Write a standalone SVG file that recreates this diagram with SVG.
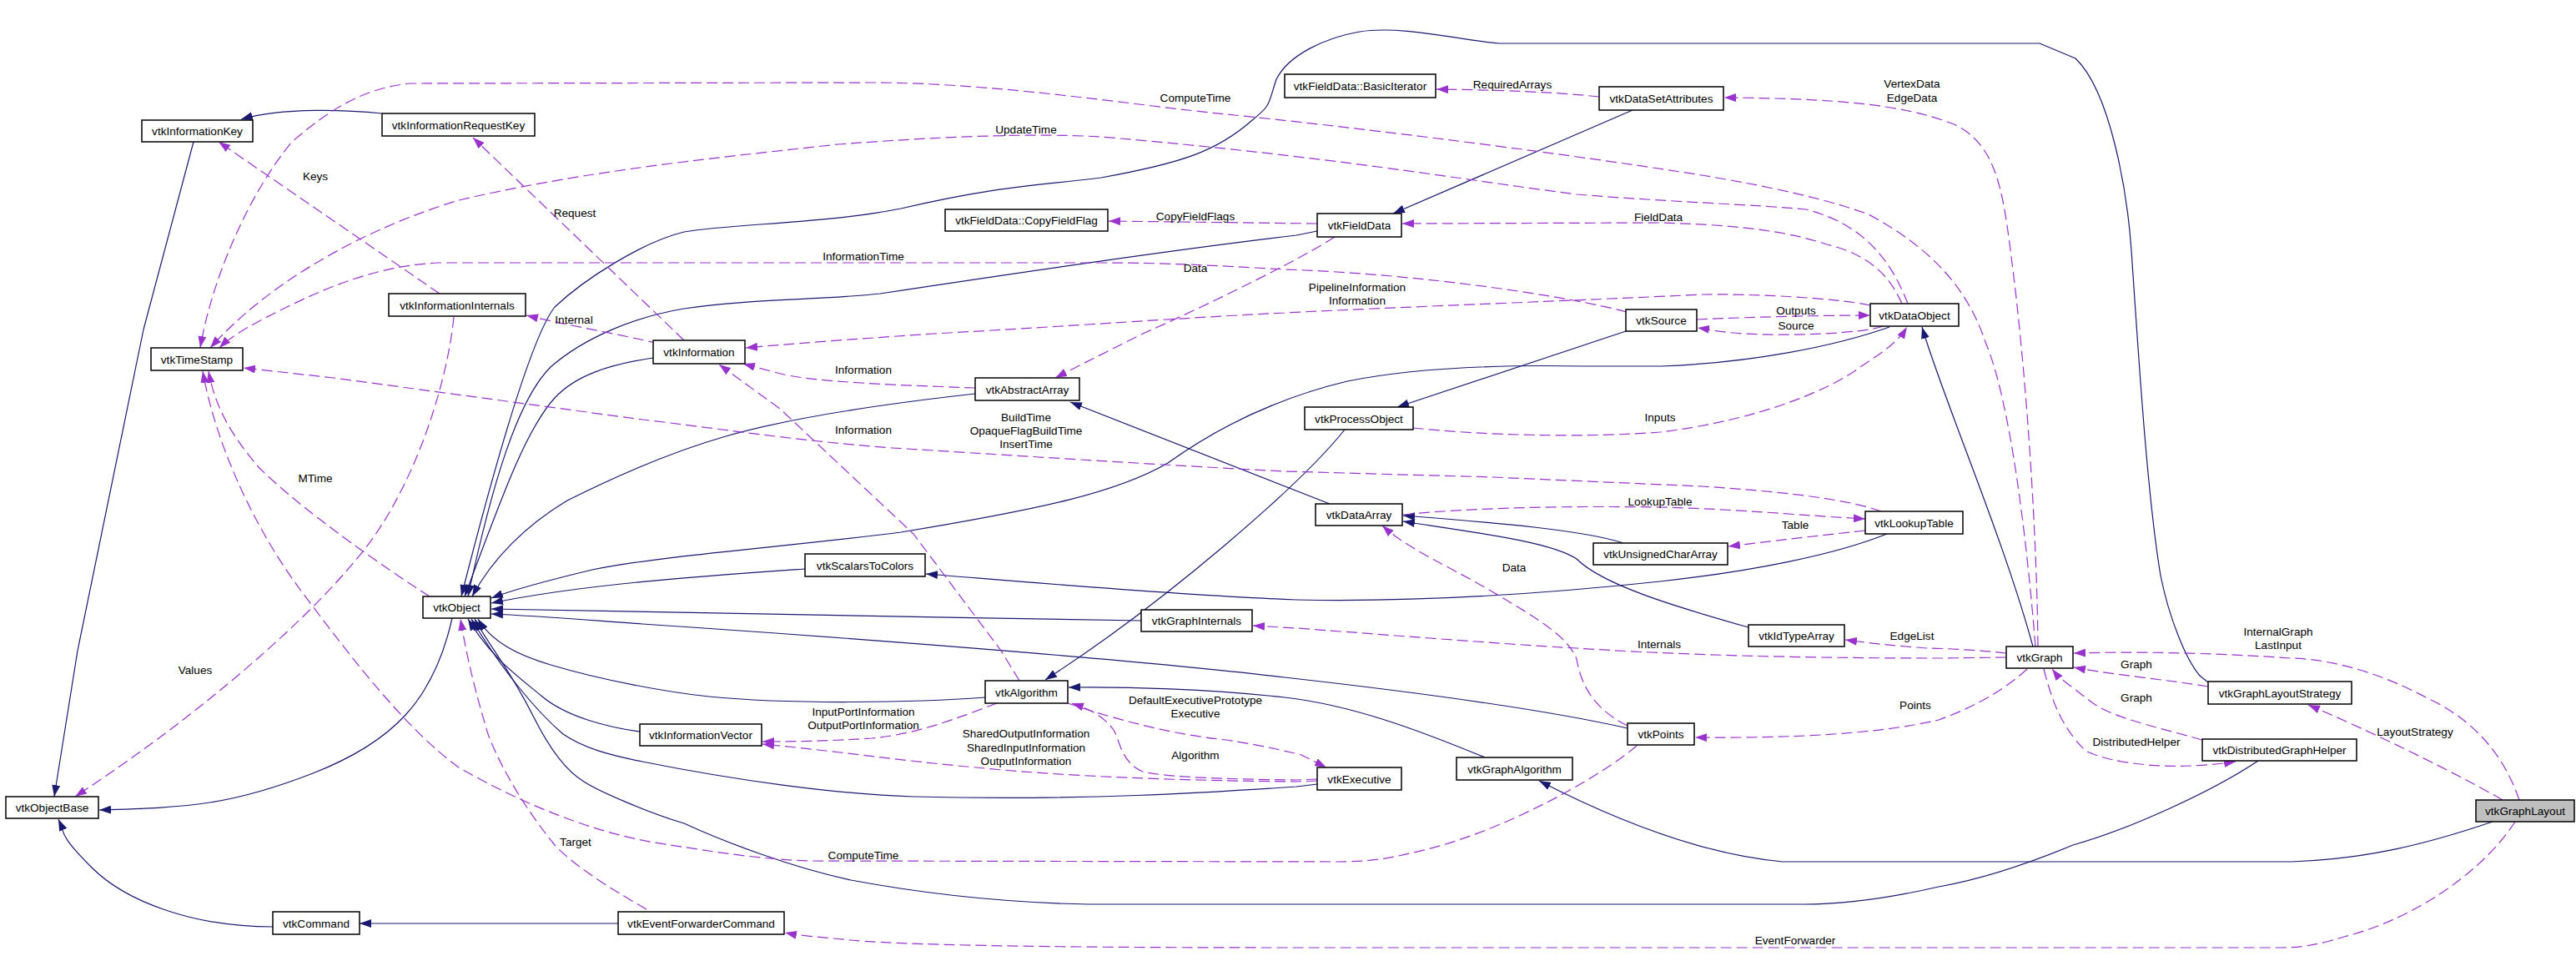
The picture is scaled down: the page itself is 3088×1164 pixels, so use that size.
<svg xmlns="http://www.w3.org/2000/svg" width="3088" height="1164" viewBox="0 0 3088 1164">
<style>
.node rect{fill:#ffffff;stroke:#000000;stroke-width:1.5}
#vtkGraphLayout rect{fill:#bfbfbf}
text{font-family:"Liberation Sans",Arial,sans-serif;font-size:13.6px;fill:#000000;text-anchor:middle}
.inh{fill:none;stroke:#191970;stroke-width:1.2;stroke-linejoin:round;marker-end:url(#an)}
.use{fill:none;stroke:#9a32cd;stroke-width:1.2;stroke-dasharray:13,6;stroke-linejoin:round;marker-end:url(#ap)}
</style>
<defs>
<marker id="an" viewBox="0 0 14 10" refX="14" refY="5" markerWidth="14" markerHeight="10" markerUnits="userSpaceOnUse" orient="auto"><path d="M0,0L14,5L0,10z" fill="#191970" stroke="none"/></marker>
<marker id="ap" viewBox="0 0 14 10" refX="14" refY="5" markerWidth="14" markerHeight="10" markerUnits="userSpaceOnUse" orient="auto"><path d="M0,0L14,5L0,10z" fill="#9a32cd" stroke="none"/></marker>
</defs>
<rect width="3088" height="1164" fill="#ffffff"/>
<g id="edges">
<!-- inheritance -->
<path class="inh" d="M458,136 C420,132 340,128 289,143"/>
<path class="inh" d="M232,170 L172,395 L93,780 L65,955"/>
<path class="inh" d="M542,741 C520,840 470,890 375,927 S230,968 119,971"/>
<path class="inh" d="M327,1111 C230,1111 150,1080 110,1040 S78,1000 70,982"/>
<path class="inh" d="M741,1107 L431,1107"/>
<path class="inh" d="M2647,818 L2637,810 C2620,790 2600,740 2590,690 C2575,600 2565,450 2555,300 C2550,230 2530,110 2488,70 L2445,52 L1797,52 C1750,48 1680,30 1630,38 C1590,45 1545,65 1530,95 C1520,125 1525,125 1500,145 C1460,180 1420,195 1320,213 C1250,222 1200,222 1080,250 C990,268 880,268 820,278 C770,290 700,335 665,368 C640,400 600,530 553,715"/>
<path class="inh" d="M783,429 C730,437 690,450 665,477 C630,515 600,600 557,715"/>
<path class="inh" d="M1579,277 L1554,282 C1400,300 1200,330 1055,352 C980,360 900,358 820,370 C760,380 700,405 660,440 C620,480 590,580 561,715"/>
<path class="inh" d="M1169,472 C1070,483 950,500 870,523 C800,543 730,575 680,600 C630,630 590,670 566,715"/>
<path class="inh" d="M2265,392 C2200,415 2100,435 1990,439 L1900,439 C1800,437 1700,440 1615,457 C1540,475 1470,505 1400,555 C1340,590 1250,610 1080,638 C950,655 800,665 710,683 C660,695 620,705 589,717"/>
<path class="inh" d="M965,682 C850,690 700,700 589,723"/>
<path class="inh" d="M1368,744 C1100,740 800,733 589,730"/>
<path class="inh" d="M1951,873 C1850,850 1700,830 1540,812 C1400,795 1100,770 770,748 C700,743 640,738 589,736"/>
<path class="inh" d="M1181,836 C1100,842 950,845 850,835 C800,830 720,815 660,797 C620,785 590,770 573,742"/>
<path class="inh" d="M767,877 C730,872 680,860 650,835 C620,810 590,790 561,742"/>
<path class="inh" d="M1579,940 L1554,943 C1450,950 1300,960 1095,955 C1000,952 880,935 770,913 C730,905 700,897 675,880 C640,850 600,800 565,742"/>
<path class="inh" d="M2707,912 C2650,950 2550,995 2485,1013 C2420,1040 2370,1055 2324,1063 C2250,1080 2200,1084 2162,1084 L1305,1084 C1200,1082 1100,1070 1020,1055 C950,1040 870,1010 820,987 C780,975 720,950 700,937 C680,925 660,900 640,860 C610,800 590,780 569,742"/>
<path class="inh" d="M2437,775 C2400,640 2330,480 2304,392"/>
<path class="inh" d="M1957,132 L1670,256"/>
<path class="inh" d="M1949,397 L1675,488"/>
<path class="inh" d="M1612,515 C1560,580 1400,720 1253,815"/>
<path class="inh" d="M1594,604 L1283,482"/>
<path class="inh" d="M1946,651 C1900,636 1800,627 1682,618"/>
<path class="inh" d="M2096,752 C2000,725 1920,700 1890,670 C1860,650 1780,640 1682,625"/>
<path class="inh" d="M2262,640 C2200,665 2100,685 1990,697 C1850,712 1700,722 1554,719 C1400,713 1200,695 1110,688"/>
<path class="inh" d="M1780,908 C1700,875 1620,845 1540,836 C1450,826 1350,823 1281,824"/>
<path class="inh" d="M2988,985 C2900,1015 2830,1030 2747,1033 L2137,1033 C2050,1025 1950,990 1845,936"/>
<!-- usage -->
<path class="use" d="M527,352 L262,170"/>
<path class="use" d="M820,408 L567,165"/>
<path class="use" d="M790,412 C740,400 680,390 631,378"/>
<path class="use" d="M544,380 C535,470 490,600 425,673 C370,740 250,850 90,955"/>
<path class="use" d="M515,715 C460,680 360,610 310,560 C280,525 258,490 250,445"/>
<path class="use" d="M1962,894 C1920,930 1800,1000 1690,1023 C1660,1030 1640,1033 1600,1033 L970,1032 C900,1030 820,1015 784,1010 C700,995 620,960 550,920 C480,870 400,760 360,707 C310,640 260,540 243,445"/>
<path class="use" d="M2440,775 C2430,650 2410,480 2380,410 C2360,350 2320,300 2240,257 C2180,235 2100,220 2040,210 C1850,180 1600,150 1470,137 C1350,125 1200,100 1050,99 L492,100 C440,105 400,127 350,170 C300,230 255,330 240,417"/>
<path class="use" d="M2287,364 C2270,320 2240,270 2165,251 C2100,245 2000,242 1890,233 C1750,215 1600,188 1320,164 C1250,160 1150,162 1005,173 C850,190 700,205 550,240 C450,270 330,330 252,417"/>
<path class="use" d="M1950,374 C1880,355 1700,328 1540,323 C1450,318 1400,315 1320,315 L525,315 C460,318 400,340 340,370 C310,385 280,400 263,417"/>
<path class="use" d="M2034,383 C2100,380 2180,378 2242,378"/>
<path class="use" d="M2258,391 C2230,400 2150,403 2090,400 C2060,398 2050,395 2035,393"/>
<path class="use" d="M2280,364 C2265,330 2240,305 2190,293 C2150,280 2100,270 1990,267 L1681,268"/>
<path class="use" d="M2443,775 C2442,650 2430,450 2410,300 C2400,220 2390,170 2340,148 C2280,125 2200,118 2067,117"/>
<path class="use" d="M1917,116 C1860,110 1800,108 1722,107"/>
<path class="use" d="M1579,268 L1329,265"/>
<path class="use" d="M1600,284 C1560,310 1460,360 1370,400 C1320,425 1290,440 1265,453"/>
<path class="use" d="M1169,465 C1080,462 980,458 940,449 C920,444 905,440 891,436"/>
<path class="use" d="M1222,816 L1200,780 L1095,640 L935,490 L862,437"/>
<path class="use" d="M2255,613 C2220,600 2150,590 2040,583 L1790,572 L1540,565 C1400,558 1200,545 1070,537 C950,528 850,512 770,503 L600,480 L400,453 L292,441"/>
<path class="use" d="M1682,617 C1750,610 1850,606 1990,608 C2080,610 2160,618 2236,622"/>
<path class="use" d="M2236,636 C2180,642 2130,648 2072,655"/>
<path class="use" d="M1951,870 C1910,850 1895,820 1890,790 C1880,765 1850,745 1790,710 C1740,680 1690,660 1657,630"/>
<path class="use" d="M2405,788 L2330,789 C2200,789 2040,787 1890,777 C1800,772 1650,760 1554,753 L1502,750"/>
<path class="use" d="M2405,783 C2380,780 2330,777 2310,777 C2270,774 2250,772 2212,767"/>
<path class="use" d="M2430,802 C2400,830 2360,850 2324,863 C2250,880 2150,885 2032,884"/>
<path class="use" d="M3020,959 C3000,900 2960,860 2910,837 C2860,810 2800,790 2745,789 C2650,782 2550,781 2486,783"/>
<path class="use" d="M2647,823 C2600,815 2540,810 2486,800"/>
<path class="use" d="M2640,887 C2580,870 2530,860 2505,840 C2480,820 2470,815 2460,802"/>
<path class="use" d="M2450,802 C2460,840 2470,870 2500,900 C2530,915 2600,925 2680,913"/>
<path class="use" d="M3000,959 C2950,930 2850,880 2767,845"/>
<path class="use" d="M3015,985 C2980,1040 2900,1100 2810,1123 C2780,1132 2760,1136 2735,1136 L1554,1136 C1300,1136 1100,1134 1020,1127 C990,1124 960,1122 941,1118"/>
<path class="use" d="M775,1090 C740,1070 690,1040 665,1013 C630,970 600,920 585,880 C570,830 560,790 552,742"/>
<path class="use" d="M1195,843 C1150,860 1100,880 1045,885 C1000,888 960,889 914,889"/>
<path class="use" d="M1579,936 L1554,937 C1450,936 1300,933 1170,920 C1080,912 1000,900 914,892"/>
<path class="use" d="M1579,934 L1554,935 C1470,934 1400,932 1370,925 C1345,915 1343,890 1335,875 C1320,855 1300,848 1285,843"/>
<path class="use" d="M1280,843 C1330,860 1400,880 1470,887 C1510,893 1540,900 1560,905 C1570,910 1580,915 1590,920"/>
<path class="use" d="M1694,513 C1780,522 1900,525 1990,518 C2100,505 2190,470 2230,440 C2260,420 2275,410 2286,392"/>
<path class="use" d="M2242,366 C2200,357 2100,352 2040,353 C1900,360 1700,367 1540,375 C1400,382 1300,390 1120,400 C1000,408 950,412 894,417"/>
<!-- labels -->
<text x="378" y="216">Keys</text>
<text x="689" y="260">Request</text>
<text x="688" y="388">Internal</text>
<text x="378" y="578">MTime</text>
<text x="234" y="808">Values</text>
<text x="690" y="1014">Target</text>
<text x="1433" y="122">ComputeTime</text>
<text x="1230" y="160">UpdateTime</text>
<text x="1433" y="264">CopyFieldFlags</text>
<text x="1035" y="312">InformationTime</text>
<text x="1433" y="326">Data</text>
<text x="1813" y="106">RequiredArrays</text>
<text x="2292" y="105">VertexData</text>
<text x="2292" y="122">EdgeData</text>
<text x="1988" y="265">FieldData</text>
<text x="1627" y="349">PipelineInformation</text>
<text x="1627" y="365">Information</text>
<text x="2153" y="377">Outputs</text>
<text x="2153" y="395">Source</text>
<text x="1035" y="448">Information</text>
<text x="1035" y="520">Information</text>
<text x="1230" y="505">BuildTime</text>
<text x="1230" y="521">OpaqueFlagBuildTime</text>
<text x="1230" y="537">InsertTime</text>
<text x="1990" y="505">Inputs</text>
<text x="1990" y="606">LookupTable</text>
<text x="2152" y="634">Table</text>
<text x="1815" y="685">Data</text>
<text x="1989" y="777">Internals</text>
<text x="2292" y="767">EdgeList</text>
<text x="2731" y="762">InternalGraph</text>
<text x="2731" y="778">LastInput</text>
<text x="1035" y="858">InputPortInformation</text>
<text x="1035" y="874">OutputPortInformation</text>
<text x="1230" y="884">SharedOutputInformation</text>
<text x="1230" y="901">SharedInputInformation</text>
<text x="1230" y="917">OutputInformation</text>
<text x="1433" y="844">DefaultExecutivePrototype</text>
<text x="1433" y="860">Executive</text>
<text x="1433" y="910">Algorithm</text>
<text x="1035" y="1030">ComputeTime</text>
<text x="2296" y="850">Points</text>
<text x="2152" y="1132">EventForwarder</text>
<text x="2561" y="801">Graph</text>
<text x="2561" y="841">Graph</text>
<text x="2561" y="894">DistributedHelper</text>
<text x="2895" y="882">LayoutStrategy</text>
</g>
<g id="vtkInformationKey" class="node"><rect x="170" y="144" width="133" height="26"/><text x="236.5" y="162">vtkInformationKey</text></g>
<g id="vtkInformationRequestKey" class="node"><rect x="458" y="136" width="183" height="27"/><text x="549.5" y="154.5">vtkInformationRequestKey</text></g>
<g id="vtkInformationInternals" class="node"><rect x="466" y="352" width="164" height="27"/><text x="548" y="370.5">vtkInformationInternals</text></g>
<g id="vtkTimeStamp" class="node"><rect x="181" y="417" width="110" height="27"/><text x="236" y="435.5">vtkTimeStamp</text></g>
<g id="vtkObject" class="node"><rect x="507" y="715" width="81" height="26"/><text x="547.5" y="733">vtkObject</text></g>
<g id="vtkObjectBase" class="node"><rect x="7" y="955" width="111" height="26"/><text x="62.5" y="973">vtkObjectBase</text></g>
<g id="vtkCommand" class="node"><rect x="327" y="1093" width="104" height="27"/><text x="379" y="1111.5">vtkCommand</text></g>
<g id="vtkEventForwarderCommand" class="node"><rect x="741" y="1093" width="199" height="27"/><text x="840.5" y="1111.5">vtkEventForwarderCommand</text></g>
<g id="vtkInformation" class="node"><rect x="783" y="408" width="110" height="28"/><text x="838" y="427">vtkInformation</text></g>
<g id="vtkInformationVector" class="node"><rect x="767" y="868" width="146" height="26"/><text x="840" y="886">vtkInformationVector</text></g>
<g id="vtkAlgorithm" class="node"><rect x="1181" y="816" width="99" height="27"/><text x="1230.5" y="834.5">vtkAlgorithm</text></g>
<g id="vtkScalarsToColors" class="node"><rect x="965" y="664" width="144" height="27"/><text x="1037" y="682.5">vtkScalarsToColors</text></g>
<g id="vtkAbstractArray" class="node"><rect x="1169" y="453" width="125" height="27"/><text x="1231.5" y="471.5">vtkAbstractArray</text></g>
<g id="vtkGraphInternals" class="node"><rect x="1368" y="731" width="133" height="26"/><text x="1434.5" y="749">vtkGraphInternals</text></g>
<g id="vtkFieldData_CopyFieldFlag" class="node"><rect x="1133" y="251" width="195" height="26"/><text x="1230.5" y="269">vtkFieldData::CopyFieldFlag</text></g>
<g id="vtkFieldData_BasicIterator" class="node"><rect x="1540" y="89" width="181" height="28"/><text x="1630.5" y="108">vtkFieldData::BasicIterator</text></g>
<g id="vtkDataSetAttributes" class="node"><rect x="1917" y="104" width="149" height="28"/><text x="1991.5" y="123">vtkDataSetAttributes</text></g>
<g id="vtkFieldData" class="node"><rect x="1579" y="256" width="101" height="28"/><text x="1629.5" y="275">vtkFieldData</text></g>
<g id="vtkSource" class="node"><rect x="1949" y="371" width="85" height="26"/><text x="1991.5" y="389">vtkSource</text></g>
<g id="vtkDataObject" class="node"><rect x="2242" y="364" width="106" height="27"/><text x="2295" y="382.5">vtkDataObject</text></g>
<g id="vtkProcessObject" class="node"><rect x="1564" y="488" width="130" height="27"/><text x="1629" y="506.5">vtkProcessObject</text></g>
<g id="vtkDataArray" class="node"><rect x="1577" y="604" width="104" height="26"/><text x="1629" y="622">vtkDataArray</text></g>
<g id="vtkUnsignedCharArray" class="node"><rect x="1910" y="651" width="161" height="26"/><text x="1990.5" y="669">vtkUnsignedCharArray</text></g>
<g id="vtkLookupTable" class="node"><rect x="2236" y="613" width="117" height="27"/><text x="2294.5" y="631.5">vtkLookupTable</text></g>
<g id="vtkIdTypeArray" class="node"><rect x="2096" y="749" width="115" height="26"/><text x="2153.5" y="767">vtkIdTypeArray</text></g>
<g id="vtkGraph" class="node"><rect x="2405" y="775" width="80" height="26"/><text x="2445" y="793">vtkGraph</text></g>
<g id="vtkExecutive" class="node"><rect x="1579" y="920" width="101" height="27"/><text x="1629.5" y="938.5">vtkExecutive</text></g>
<g id="vtkGraphAlgorithm" class="node"><rect x="1746" y="908" width="139" height="27"/><text x="1815.5" y="926.5">vtkGraphAlgorithm</text></g>
<g id="vtkPoints" class="node"><rect x="1951" y="867" width="80" height="26"/><text x="1991" y="885">vtkPoints</text></g>
<g id="vtkGraphLayoutStrategy" class="node"><rect x="2647" y="817" width="172" height="27"/><text x="2733" y="835.5">vtkGraphLayoutStrategy</text></g>
<g id="vtkDistributedGraphHelper" class="node"><rect x="2640" y="886" width="185" height="26"/><text x="2732.5" y="904">vtkDistributedGraphHelper</text></g>
<g id="vtkGraphLayout" class="node"><rect x="2968" y="959" width="118" height="26"/><text x="3027" y="977">vtkGraphLayout</text></g>
</svg>
